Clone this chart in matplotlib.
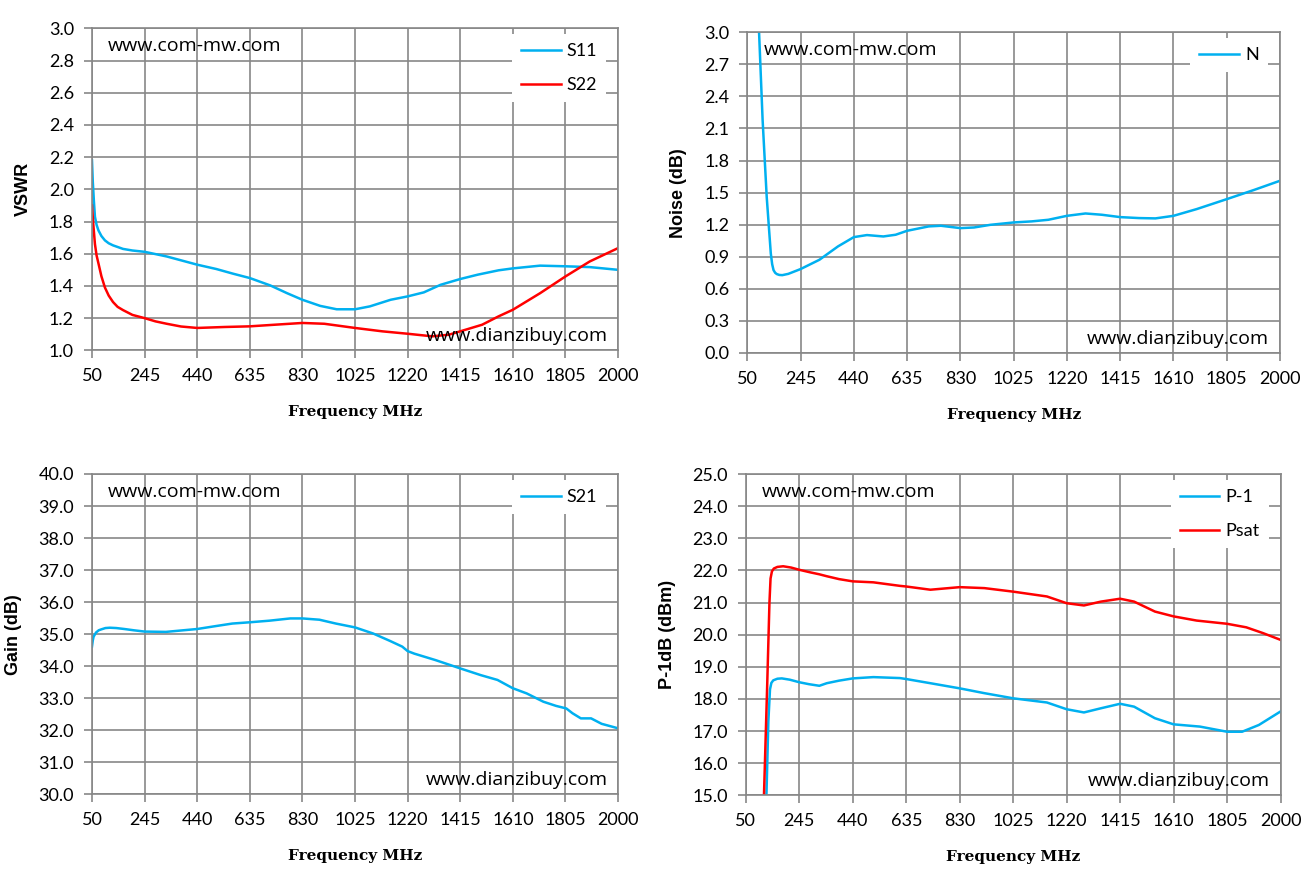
import matplotlib
matplotlib.use('Agg')
import matplotlib.pyplot as plt

# frequency ticks shared by all four panels (MHz)
freq_ticks = [50, 245, 440, 635, 830, 1025, 1220, 1415, 1610, 1805, 2000]

# VSWR panel
s11_f = [50, 53, 57, 61, 67, 74, 85, 98, 112, 128, 145, 165, 200, 245, 327, 440, 511,
         573, 635, 711, 773, 830, 896, 957, 1025, 1080, 1157, 1220, 1280, 1342, 1415,
         1480, 1557, 1610, 1711, 1805, 1895, 2000]
s11_v = [2.18, 2.05, 1.93, 1.83, 1.78, 1.745, 1.71, 1.683, 1.665, 1.652, 1.642, 1.63,
         1.62, 1.612, 1.583, 1.532, 1.505, 1.476, 1.449, 1.403, 1.355, 1.314, 1.276,
         1.255, 1.255, 1.273, 1.314, 1.335, 1.36, 1.407, 1.443, 1.47, 1.497, 1.509,
         1.526, 1.522, 1.517, 1.50]
s22_f = [50, 55, 61, 67, 74, 85, 98, 112, 128, 145, 165, 200, 245, 285, 327, 380, 440,
         542, 635, 727, 830, 911, 1025, 1126, 1220, 1311, 1373, 1415, 1496, 1557, 1610,
         1711, 1805, 1895, 2000]
s22_v = [1.9, 1.78, 1.66, 1.59, 1.54, 1.46, 1.39, 1.34, 1.30, 1.27, 1.25, 1.22, 1.20,
         1.18, 1.165, 1.148, 1.139, 1.145, 1.149, 1.159, 1.17, 1.165, 1.139, 1.118,
         1.103, 1.087, 1.097, 1.118, 1.159, 1.211, 1.252, 1.355, 1.459, 1.552, 1.635]

# Noise panel
n_f = [85, 93, 106, 121, 136, 141, 146, 152, 158, 167, 178, 200, 245, 314, 382, 440,
       488, 548, 593, 635, 714, 759, 830, 880, 940, 1025, 1091, 1152, 1220, 1288, 1348,
       1415, 1484, 1544, 1610, 1695, 1805, 1906, 2000]
n_v = [3.4, 3.0, 2.18, 1.46, 0.93, 0.83, 0.775, 0.75, 0.738, 0.73, 0.728, 0.74, 0.785,
       0.872, 0.997, 1.084, 1.103, 1.09, 1.106, 1.143, 1.184, 1.19, 1.168, 1.174, 1.199,
       1.221, 1.231, 1.246, 1.283, 1.305, 1.293, 1.271, 1.262, 1.259, 1.283, 1.346,
       1.439, 1.526, 1.611]

# Gain panel
s21_f = [50, 53, 56, 65, 75, 85, 100, 116, 140, 170, 205, 245, 324, 440, 508, 570, 635,
         708, 785, 830, 893, 954, 1025, 1092, 1154, 1200, 1220, 1245, 1323, 1415, 1491,
         1553, 1610, 1661, 1723, 1770, 1808, 1831, 1862, 1900, 1939, 2000]
s21_v = [34.61, 34.8, 34.92, 35.05, 35.12, 35.15, 35.19, 35.2, 35.19, 35.16, 35.12,
         35.08, 35.07, 35.16, 35.25, 35.33, 35.37, 35.42, 35.49, 35.49, 35.45, 35.33,
         35.21, 35.02, 34.79, 34.61, 34.47, 34.39, 34.19, 33.93, 33.72, 33.57, 33.31,
         33.15, 32.89, 32.76, 32.68, 32.53, 32.37, 32.37, 32.2, 32.06]

# P-1dB / Psat panel
psat_f = [110, 116, 128, 136, 140, 145, 152, 165, 186, 215, 245, 285, 318, 345, 390,
          440, 515, 612, 635, 723, 830, 920, 1025, 1148, 1220, 1283, 1345, 1415, 1466,
          1542, 1610, 1694, 1805, 1875, 1936, 2000]
psat_v = [14.5, 15.0, 18.5, 21.0, 21.75, 21.97, 22.06, 22.11, 22.13, 22.09, 22.02,
          21.94, 21.88, 21.82, 21.73, 21.66, 21.63, 21.52, 21.5, 21.4, 21.48, 21.45,
          21.34, 21.19, 20.98, 20.91, 21.03, 21.12, 21.03, 20.72, 20.57, 20.44, 20.34,
          20.23, 20.05, 19.84]
p1_f = [120, 125, 132, 138, 143, 150, 165, 181, 210, 245, 280, 318, 345, 390, 440, 515,
        612, 635, 723, 830, 920, 1025, 1148, 1220, 1283, 1345, 1415, 1466, 1542, 1610,
        1706, 1805, 1860, 1921, 2000]
p1_v = [14.5, 15.0, 17.3, 18.3, 18.5, 18.58, 18.63, 18.64, 18.6, 18.52, 18.46, 18.41,
        18.49, 18.57, 18.64, 18.68, 18.65, 18.62, 18.49, 18.33, 18.18, 18.02, 17.89,
        17.68, 17.58, 17.71, 17.85, 17.76, 17.40, 17.21, 17.14, 16.98, 16.98, 17.19,
        17.61]

BLUE = '#00B0F0'
RED = '#FF0000'
GRID = '#878787'
TICKFONT = ['Lato', 'DejaVu Sans']

fig = plt.figure(figsize=(13.12, 8.8), dpi=100)


def style_axes(ax, ylo, yhi, ystep, ylabel):
    yt = []
    v = ylo
    while v <= yhi + 1e-9:
        yt.append(round(v, 2))
        v += ystep
    ax.set_xlim(50, 2000)
    ax.set_ylim(ylo, yhi)
    ax.set_xticks(freq_ticks)
    ax.set_xticklabels([str(t) for t in freq_ticks], family=TICKFONT, fontsize=13)
    ax.set_yticks(yt)
    ax.set_yticklabels(['%.1f' % t for t in yt], family=TICKFONT, fontsize=13)
    ax.grid(True, color=GRID, linewidth=1.2)
    ax.set_axisbelow(True)
    for s in ax.spines.values():
        s.set_color(GRID)
        s.set_linewidth(1.2)
    ax.tick_params(direction='out', length=6, width=1.2, color=GRID, pad=7,
                   labelcolor='black')
    ax.set_xlabel('Frequency MHz', family='DejaVu Serif', fontweight='bold',
                  fontsize=11, labelpad=15)
    ax.set_ylabel(ylabel, family='Liberation Sans', fontweight='bold', fontsize=13,
                  labelpad=12)
    ax.text(0.03, 0.945, 'www.com-mw.com', transform=ax.transAxes, family='Open Sans',
            fontsize=14, va='center', ha='left')
    ax.text(0.98, 0.045, 'www.dianzibuy.com', transform=ax.transAxes, family='Open Sans',
            fontsize=14, va='center', ha='right')


def add_legend(ax):
    leg = ax.legend(loc='upper right', bbox_to_anchor=(0.995, 1.01), frameon=True,
                    fancybox=False, framealpha=1, edgecolor='none', facecolor='white',
                    prop={'family': TICKFONT, 'size': 13}, handlelength=2.2,
                    handletextpad=0.35, labelspacing=1.0, borderpad=0.5)
    return leg


ax1 = fig.add_axes([0.0701, 0.6019, 0.4010, 0.3659])
ax1.plot(s11_f, s11_v, color=BLUE, lw=1.8, label='S11')
ax1.plot(s22_f, s22_v, color=RED, lw=1.8, label='S22')
style_axes(ax1, 1.0, 3.0, 0.2, 'VSWR')
add_legend(ax1)

ax2 = fig.add_axes([0.5696, 0.5989, 0.4060, 0.3644])
ax2.plot(n_f, n_v, color=BLUE, lw=1.8, label='N')
style_axes(ax2, 0.0, 3.0, 0.3, 'Noise (dB)')
add_legend(ax2)

ax3 = fig.add_axes([0.0701, 0.0974, 0.4010, 0.3640])
ax3.plot(s21_f, s21_v, color=BLUE, lw=1.8, label='S21')
style_axes(ax3, 30.0, 40.0, 1.0, 'Gain (dB)')
add_legend(ax3)

ax4 = fig.add_axes([0.5685, 0.0962, 0.4075, 0.3651])
ax4.plot(p1_f, p1_v, color=BLUE, lw=1.8, label='P-1')
ax4.plot(psat_f, psat_v, color=RED, lw=1.8, label='Psat')
style_axes(ax4, 15.0, 25.0, 1.0, 'P-1dB (dBm)')
add_legend(ax4)

fig.savefig('out.png', dpi=100)
